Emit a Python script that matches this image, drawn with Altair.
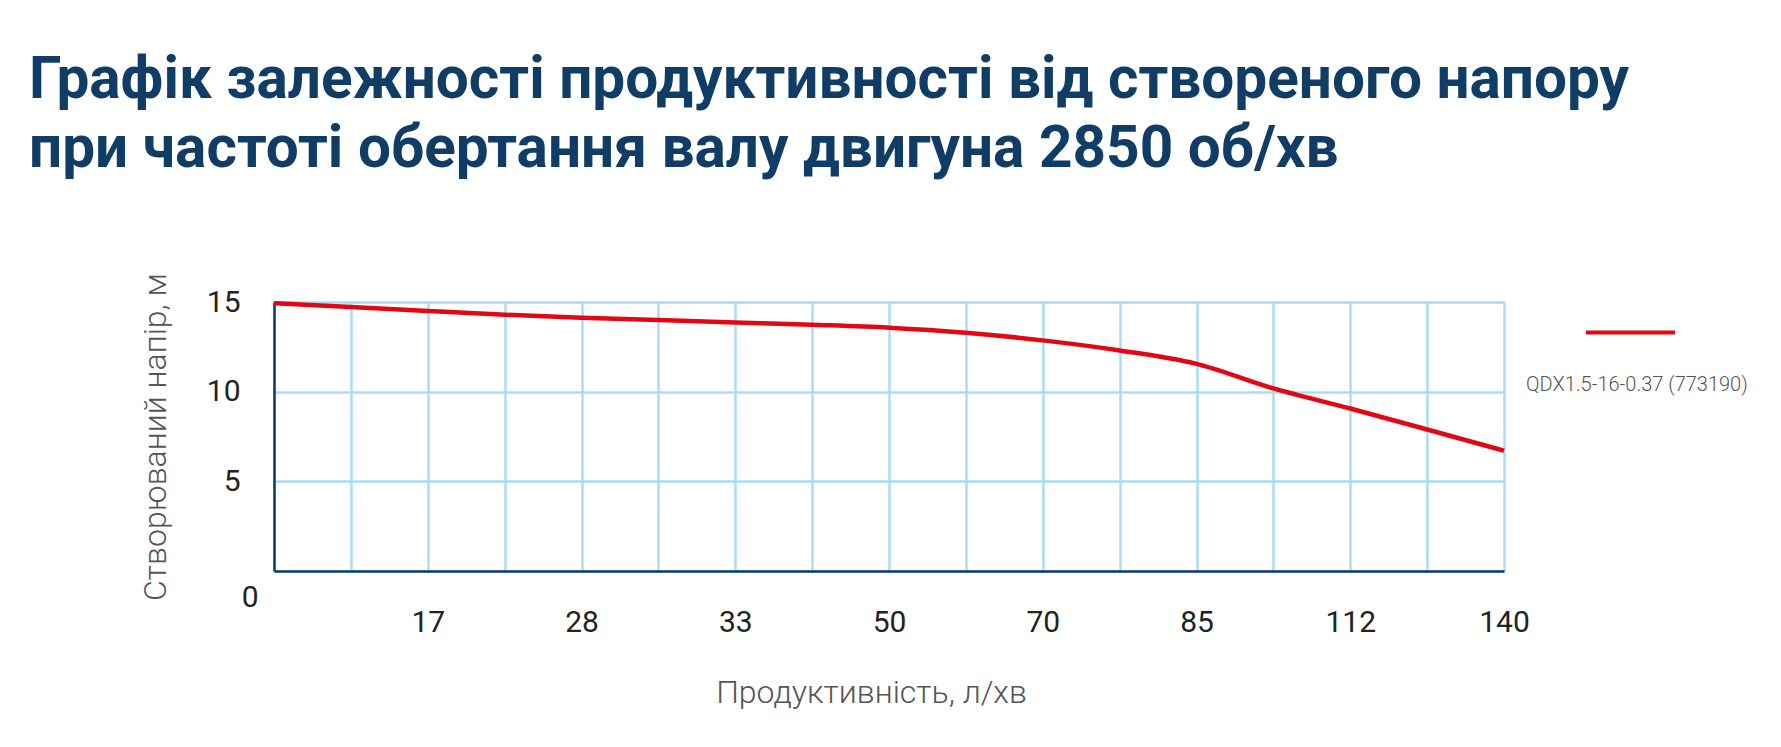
import altair as alt
import pandas as pd

# ---- data ----
grid_index = list(range(17))  # evenly spaced flow grid positions
head_m = [14.93, 14.72, 14.50, 14.29, 14.12, 13.99, 13.86, 13.73, 13.57,
          13.29, 12.86, 12.30, 11.55, 10.18, 9.06, 7.89, 6.71]
flow_tick_pos = [2, 4, 6, 8, 10, 12, 14, 16]
flow_tick_labels = ["17", "28", "33", "50", "70", "85", "112", "140"]
head_ticks = [0, 5, 10, 15]
series_name = "QDX1.5-16-0.37 (773190)"
title_lines = ["Графік залежності продуктивності від створеного напору",
               "при частоті обертання валу двигуна 2850 об/хв"]
x_title = "Продуктивність, л/хв"
y_title = "Створюваний напір, м"

df = pd.DataFrame({"idx": grid_index, "head": head_m, "series": series_name})

label_expr = "".join(
    f"datum.value === {p} ? '{l}' : " for p, l in zip(flow_tick_pos, flow_tick_labels)
) + "''"

NAVY = "#0f3d66"
GRID = "#a8dcf6"
TXT = "#222222"
GREY = "#555555"

x_axis = alt.Axis(
    values=grid_index, labelExpr=label_expr, grid=True, gridColor=GRID, gridWidth=2.5,
    ticks=False, domainColor=NAVY, domainWidth=2.5,
    labelFont="Roboto", labelFontSize=30, labelColor=TXT, labelPadding=36,
    labelFlush=False, labelOverlap=False,
    title=x_title, titleFont="Roboto", titleFontSize=32, titleFontWeight=300,
    titleColor=GREY, titlePadding=40, titleX=597,
)
y_axis = alt.Axis(
    values=head_ticks, grid=True, gridColor=GRID, gridWidth=2.5,
    ticks=False, domainColor=NAVY, domainWidth=2.5,
    labelFont="Roboto", labelFontSize=30, labelColor=TXT,
    labelPadding={"condition": {"test": "datum.value === 0", "value": 16}, "value": 34},
    labelOffset={"condition": {"test": "datum.value === 0", "value": 26}, "value": 0},
    labelFlush=False, labelOverlap=False,
    title=y_title, titleFont="Roboto", titleFontSize=32, titleFontWeight=300,
    titleColor=GREY, titlePadding=34,
)

chart = alt.Chart(df).mark_line(strokeWidth=4.5, interpolate="monotone").encode(
    x=alt.X("idx:Q", scale=alt.Scale(domain=[0, 16], nice=False, zero=False), axis=x_axis),
    y=alt.Y("head:Q", scale=alt.Scale(domain=[0, 15], nice=False), axis=y_axis),
    color=alt.Color(
        "series:N",
        scale=alt.Scale(range=["#e30613"]),
        legend=alt.Legend(
            orient="none", legendX=1252, legendY=-16,
            title=series_name, titleOrient="bottom", titleAnchor="start",
            titleFont="Roboto", titleFontSize=20, titleFontWeight=300, titleColor=GREY,
            titlePadding=34, titleLimit=400,
            labelExpr="''", symbolType="stroke", symbolSize=7921,
            symbolStrokeWidth=4, symbolStrokeColor="#e30613", symbolOffset=58,
        ),
    ),
).properties(
    width=1230, height=269,
    autosize=alt.AutoSizeParams(type="none"),
    padding={"left": 266, "top": 294, "right": 261, "bottom": 160},
    title=alt.TitleParams(
        text=title_lines, anchor="start", frame="group", dx=-245, offset=93,
        font="Roboto", fontSize=58.5, fontWeight=700, color=NAVY, lineHeight=69,
    ),
).configure_view(stroke=None).configure(background="white")

chart.save("out.html", embed_options={"renderer": "svg", "actions": False})
